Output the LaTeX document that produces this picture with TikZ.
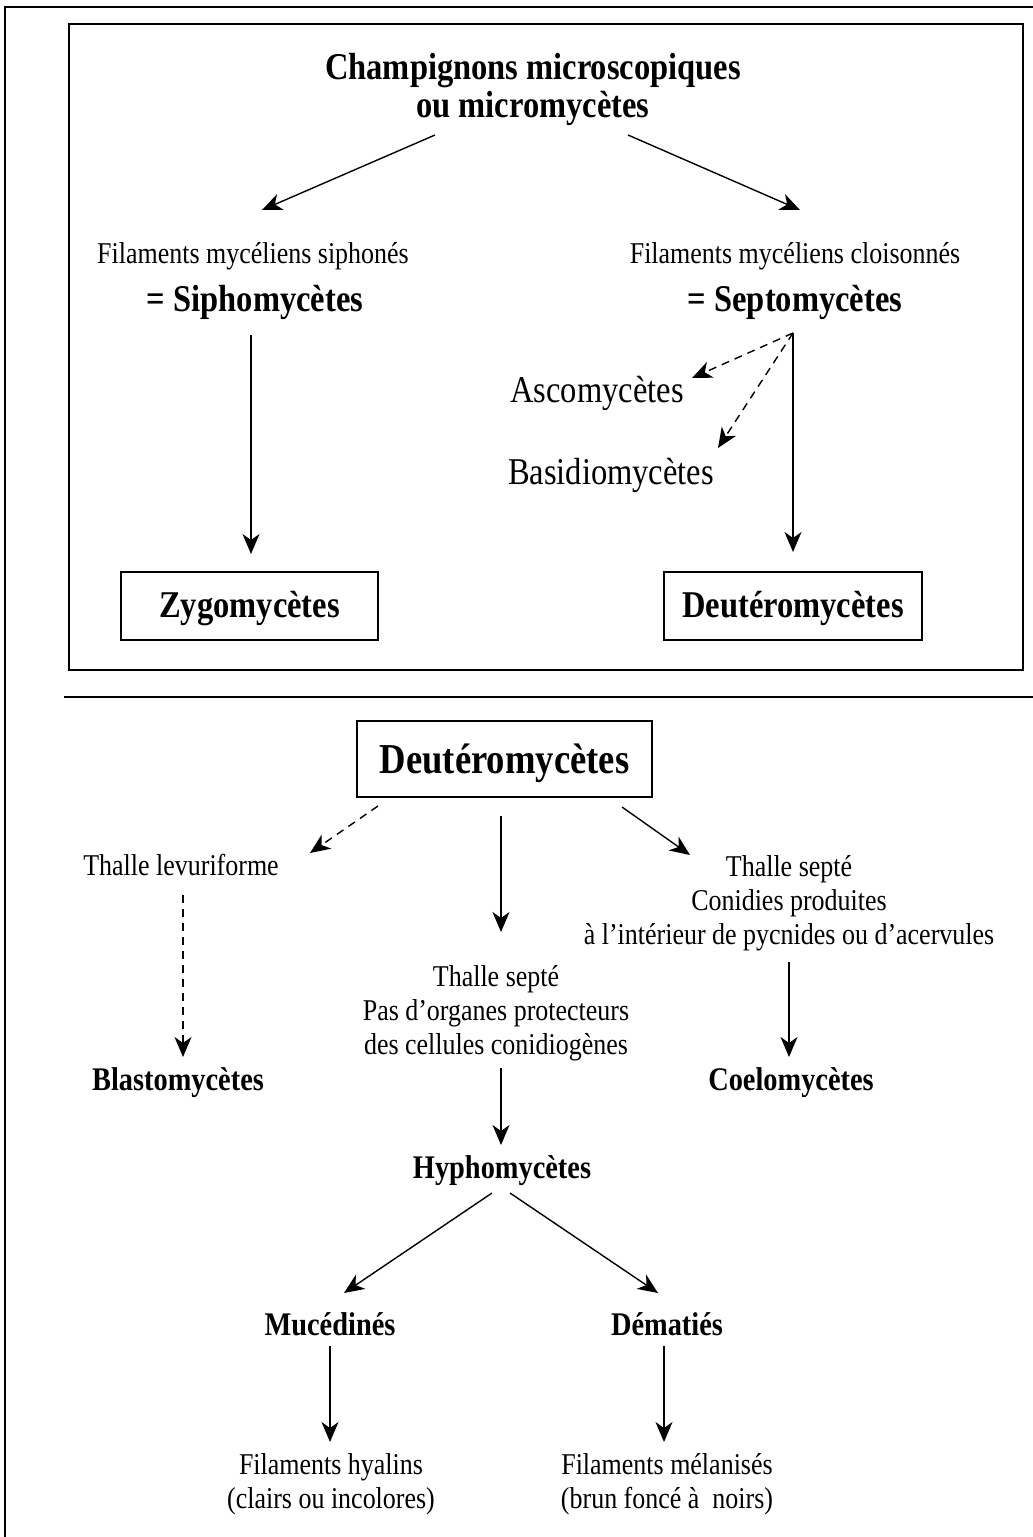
\documentclass[tikz,border=0pt]{standalone}
\usepackage{fontspec}
\setmainfont{Liberation Serif}[FakeStretch=0.86]
\usetikzlibrary{arrows.meta,calc}
\begin{document}
\begin{tikzpicture}[x=1pt,y=-1pt,
  reg/.style={font=\fontsize{30.2}{34}\selectfont, inner sep=0pt, anchor=base, align=center},
  mid/.style={font=\fontsize{37.8}{38}\selectfont, inner sep=0pt, anchor=base},
  bbold/.style={font=\fontsize{37.8}{38}\selectfont\bfseries, inner sep=0pt, anchor=base, align=center},
  sbold/.style={font=\fontsize{33}{34}\selectfont\bfseries, inner sep=0pt, anchor=base},
  boxed/.style={draw, line width=2pt, inner sep=0pt, font=\fontsize{37.8}{38}\selectfont\bfseries, text height=30pt, text depth=8pt},
  arr/.style={-{Stealth[length=20pt,width=17pt,inset=6pt]}, line width=1.4pt},
  darr/.style={arr, dash pattern=on 8pt off 6pt},
  frame/.style={line width=2.4pt}]
\useasboundingbox (0,0) rectangle (1033,1537);
\fill[white] (0,0) rectangle (1033,1537);
% outer frame and separators
\draw[frame] (5,1545) -- (5,7) -- (1040,7);
\draw[line width=2pt] (69,24) rectangle (1023,670);
\draw[frame] (64,697) -- (1040,697);

% ---- top panel ----
\node[bbold] (title) at (533,117) {Champignons microscopiques\\ou micromycètes};
\node[reg] (fsi) at (253,263) {Filaments mycéliens siphonés};
\node[bbold] (sip) at (255,311) {= Siphomycètes};
\node[reg] (fcl) at (795,263) {Filaments mycéliens cloisonnés};
\node[bbold] (sep) at (795,311) {= Septomycètes};
\node[mid] (asc) at (597,402) {Ascomycètes};
\node[mid] (bas) at (611,484) {Basidiomycètes};
\node[boxed, minimum width=257pt, minimum height=68pt] (zyg) at (249.5,606) {Zygomycètes};
\node[boxed, minimum width=258pt, minimum height=68pt] (deu1) at (793,606) {Deutéromycètes};

\draw[arr] ($(title.base)+(-98,18)$) -- ($(fsi.base)+(9,-53)$);
\draw[arr] ($(title.base)+(95,18)$) -- ($(fcl.base)+(5,-53)$);
\draw[arr] ($(sip.base)+(-4,24)$) -- ($(zyg.north)+(1.5,-17)$);
\draw[arr] ($(sep.base)+(-2,22)$) -- ($(deu1.north)+(0,-19)$);
\draw[darr] ($(sep.base)+(-2,22)$) -- ($(asc.base)+(95,-24)$);
\draw[darr] ($(sep.base)+(-2,22)$) -- ($(bas.base)+(107,-36)$);

% ---- bottom panel ----
\node[boxed, minimum width=295pt, minimum height=76pt, font=\fontsize{42.6}{42}\selectfont\bfseries, text height=34pt, text depth=6pt] (deu2) at (504.5,759) {Deutéromycètes};
\node[reg] (thl) at (181,875) {Thalle levuriforme};
\node[reg] (ts1) at (789,944) {Thalle septé\\Conidies produites\\à l’intérieur de pycnides ou d’acervules};
\node[reg] (ts2) at (496,1054) {Thalle septé\\Pas d’organes protecteurs\\des cellules conidiogènes};
\node[sbold] (bla) at (178,1090) {Blastomycètes};
\node[sbold] (coe) at (791,1090) {Coelomycètes};
\node[sbold] (hyp) at (502,1178) {Hyphomycètes};
\node[sbold] (muc) at (330,1335) {Mucédinés};
\node[sbold] (dem) at (667,1335) {Dématiés};
\node[reg] (fhy) at (331,1508) {Filaments hyalins\\(clairs ou incolores)};
\node[reg] (fme) at (667,1508) {Filaments mélanisés\\(brun foncé à\ \ noirs)};

\draw[darr] ($(deu2.south)+(-126.5,8)$) -- ($(thl.base)+(129,-22)$);
\draw[arr] ($(deu2.south)+(-3.5,18)$) -- ($(ts2.base)+(5,-122)$);
\draw[arr] ($(deu2.south)+(117.5,9)$) -- ($(ts1.base)+(-99,-89)$);
\draw[darr] ($(thl.base)+(2,20)$) -- ($(bla.base)+(5,-33)$);
\draw[arr] ($(ts1.base)+(0,18)$) -- ($(coe.base)+(-2,-33)$);
\draw[arr] ($(ts2.base)+(5,14)$) -- ($(hyp.base)+(-1,-33)$);
\draw[arr] ($(hyp.base)+(-10,15)$) -- ($(muc.base)+(14,-42)$);
\draw[arr] ($(hyp.base)+(8,15)$) -- ($(dem.base)+(-9,-42)$);
\draw[arr] ($(muc.base)+(0,11)$) -- ($(fhy.base)+(-1,-66)$);
\draw[arr] ($(dem.base)+(-3,11)$) -- ($(fme.base)+(-3,-66)$);
\end{tikzpicture}
\end{document}
